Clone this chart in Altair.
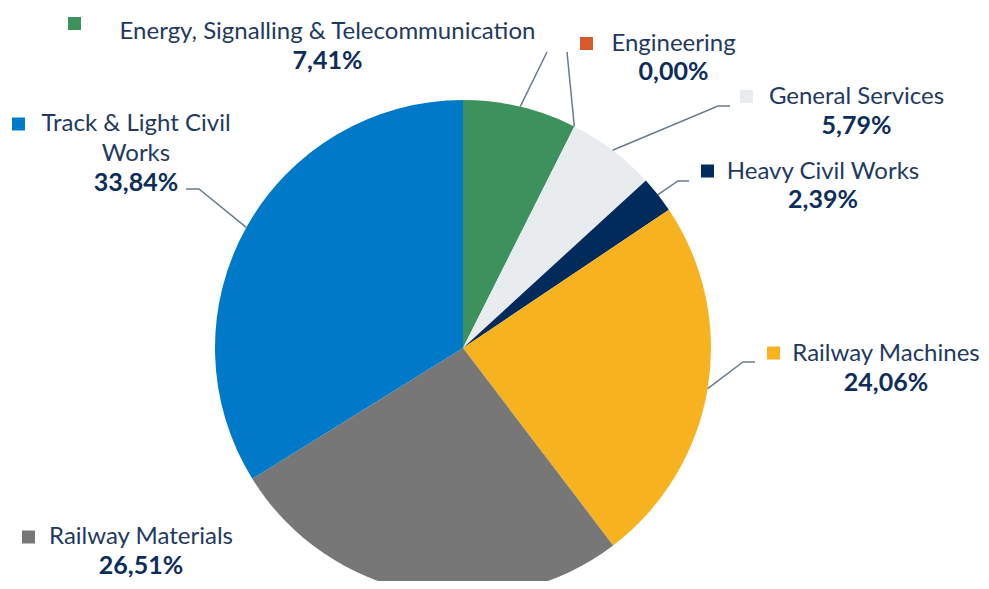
import math
import altair as alt
import pandas as pd

# ---- data ----
categories = ["Energy, Signalling & Telecommunication", "Engineering", "General Services",
              "Heavy Civil Works", "Railway Machines", "Railway Materials",
              "Track & Light Civil Works"]
values = [7.41, 0.00, 5.79, 2.39, 24.06, 26.51, 33.84]
colors = ["#3C915C", "#D65A2C", "#E8ECEF", "#002B5B", "#F7B31F", "#777777", "#0079C8"]
name_lines = [["Energy, Signalling & Telecommunication"], ["Engineering"], ["General Services"],
              ["Heavy Civil Works"], ["Railway Machines"], ["Railway Materials"],
              ["Track & Light Civil", "Works"]]

# ---- layout (page coordinates; converted by the 8px margin) ----
W, H = 973, 573
CX, CY, R = 455, 340, 248
OFF = 8
marker_pos = [(74.5, 23.5), (586.5, 43.5), (746.5, 96.5), (707.5, 171), (773.5, 353), (28.5, 537), (18.5, 124)]
label_cx = [327.5, 673.5, 856.5, 823, 886, 141, 136]
name_y = [[32], [44], [97], [172], [354], [537], [124, 154]]
pct_y = [61, 72, 126, 200, 383, 566, 183]
leader_start = {0: [(547, 52)], 1: [(567, 52)], 2: [(730, 106), (718, 106)],
                3: [(689, 181), (678, 181)], 4: [(755, 362), (743, 362)],
                6: [(186, 189), (199, 189)]}

pct_text = [f"{v:.2f}".replace(".", ",") + "%" for v in values]

pie_df = pd.DataFrame({"cat": categories, "value": values, "order": list(range(len(values)))})

# leader lines: end at the slice mid-angle on the rim
total = sum(values)
cum = 0.0
rows = []
for i, v in enumerate(values):
    mid = (cum + v / 2) / total * 2 * math.pi
    cum += v
    if i not in leader_start:
        continue
    pts = [(x - OFF, y - OFF) for x, y in leader_start[i]]
    pts.append((CX + R * math.sin(mid), CY - R * math.cos(mid)))
    for k, (x, y) in enumerate(pts):
        rows.append({"cat": categories[i], "pt": k, "px": x, "py": y})
line_df = pd.DataFrame(rows)

marker_df = pd.DataFrame({"cat": categories,
                          "px": [p[0] - OFF for p in marker_pos],
                          "py": [p[1] - OFF for p in marker_pos]})
name_rows = []
for i, lines in enumerate(name_lines):
    for j, t in enumerate(lines):
        name_rows.append({"t": t, "px": label_cx[i] - OFF, "py": name_y[i][j] - OFF})
name_df = pd.DataFrame(name_rows)
pct_df = pd.DataFrame({"t": pct_text, "px": [x - OFF for x in label_cx],
                       "py": [y - OFF for y in pct_y]})

color_scale = alt.Scale(domain=categories, range=colors)

pie = alt.Chart(pie_df).mark_arc(outerRadius=R).encode(
    theta=alt.Theta("value:Q", stack=True),
    order=alt.Order("order:Q"),
    color=alt.Color("cat:N", scale=color_scale, legend=None),
    x=alt.value(CX), y=alt.value(CY),
)

leaders = alt.Chart(line_df).mark_line(color="#6B7B8F", strokeWidth=1.5).encode(
    x=alt.X("px:Q", scale=None), y=alt.Y("py:Q", scale=None),
    detail="cat:N", order="pt:Q",
)

markers = alt.Chart(marker_df).mark_square(size=169, opacity=1).encode(
    x=alt.X("px:Q", scale=None), y=alt.Y("py:Q", scale=None),
    color=alt.Color("cat:N", scale=color_scale, legend=None),
)

names = alt.Chart(name_df).mark_text(align="center", baseline="middle", font="Lato",
                                     fontSize=24, color="#1F3A60").encode(
    x=alt.X("px:Q", scale=None), y=alt.Y("py:Q", scale=None), text="t:N",
)

pcts = alt.Chart(pct_df).mark_text(align="center", baseline="middle", font="Lato",
                                   fontSize=25, fontWeight="bold", color="#0D2D5A").encode(
    x=alt.X("px:Q", scale=None), y=alt.Y("py:Q", scale=None), text="t:N",
)

chart = alt.layer(pie, leaders, markers, names, pcts).properties(
    width=W, height=H, autosize=alt.AutoSizeParams(type="none"), padding=0,
).configure_view(stroke=None)

chart.save("out.html", embed_options={"renderer": "svg", "actions": False})
